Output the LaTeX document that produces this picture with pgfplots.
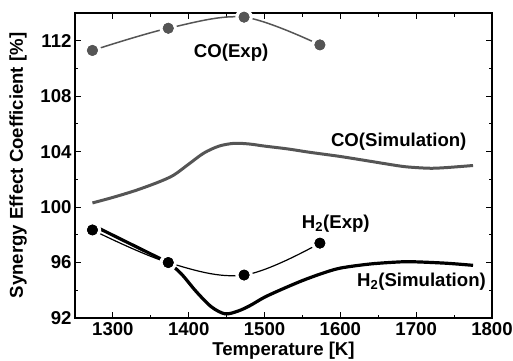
\documentclass[border=0pt]{standalone}
\usepackage{pgfplots}
\pgfplotsset{compat=1.18}
\usepackage{fontspec}
\setmainfont{Liberation Sans}
\definecolor{cogray}{RGB}{85,85,85}
\newcommand{\bigf}{\fontsize{18.6}{22}\selectfont\bfseries}
\begin{document}
\begin{tikzpicture}
\useasboundingbox (-75pt,-42pt) rectangle (438pt,318pt);
\begin{axis}[
  scale only axis, width=417pt, height=305pt,
  xmin=1250, xmax=1800, ymin=92, ymax=114,
  xtick={1300,1400,...,1800}, ytick={92,96,...,112},
  minor x tick num=1, minor y tick num=1,
  tick align=inside, major tick length=6pt, minor tick length=3.5pt,
  axis line style={line width=1.3pt},
  every tick/.style={black, line width=1pt},
  /pgf/number format/assume math mode=true,
  /pgf/number format/1000 sep={},
  xticklabel={\bigf\pgfmathprintnumber{\tick}},
  yticklabel={\bigf\pgfmathprintnumber{\tick}},
  tick label style={font=\bigf},
  xticklabel style={yshift=-1pt},
  yticklabel style={xshift=0pt},
  xlabel={Temperature [K]},
  ylabel={Synergy Effect Coefficient [\%]},
  every axis x label/.style={at={(rel axis cs:0.5,0)}, anchor=base, yshift=-37pt, font=\bigf},
  every axis y label/.style={at={(rel axis cs:0,0.5)}, rotate=90, anchor=center, yshift=57pt, font=\bigf},
]
% CO experimental curve (line with gaps)
\addplot[cogray, line width=1.5pt, smooth, tension=0.55, mark=*, mark size=7pt,
  mark options={draw=white, line width=3.5pt, fill=cogray}]
  coordinates {(1273,111.3) (1373,112.9) (1473,113.7) (1573,111.7)};
% H2 experimental curve
\addplot[black, line width=1.2pt, smooth, tension=0.6, mark=*, mark size=7pt,
  mark options={draw=white, line width=3.5pt, fill=black}]
  coordinates {(1273,98.35) (1373,96.0) (1473,95.1) (1573,97.4)};
% CO simulation
\addplot[cogray, line width=3pt, smooth] coordinates {
(1273,100.3) (1300,100.7) (1330,101.2) (1360,101.8) (1380,102.3) (1400,103.1)
(1420,103.9) (1440,104.4) (1460,104.6) (1480,104.55) (1500,104.4) (1530,104.2)
(1560,103.95) (1600,103.65) (1640,103.3) (1680,102.95) (1700,102.85) (1720,102.8)
(1740,102.85) (1775,103.0)};
% H2 simulation
\addplot[black, line width=3.2pt, smooth] coordinates {
(1273,98.7) (1300,97.97) (1330,97.16) (1360,96.35) (1373,96.0) (1390,95.2)
(1410,93.9) (1430,92.8) (1448,92.3) (1465,92.5) (1481,92.9) (1500,93.5)
(1524,94.1) (1550,94.7) (1575,95.2) (1600,95.6) (1640,95.9) (1680,96.05)
(1700,96.05) (1740,95.95) (1775,95.8)};
% markers on top
\addplot[only marks, mark=*, mark size=5.3pt, cogray]
  coordinates {(1273,111.3) (1373,112.9) (1473,113.7) (1573,111.7)};
\addplot[only marks, mark=*, mark size=5.3pt, black]
  coordinates {(1273,98.35) (1373,96.0) (1473,95.1) (1573,97.4)};
% labels
\node[font=\bigf, anchor=base] at (axis cs:1456,110.8) {CO(Exp)};
\node[font=\bigf, anchor=base] at (axis cs:1677,104.36) {CO(Simulation)};
\node[font=\bigf, anchor=base] at (axis cs:1594,98.47) {H\textsubscript{2}(Exp)};
\node[font=\bigf, anchor=base] at (axis cs:1707,94.25) {H\textsubscript{2}(Simulation)};
\end{axis}
\end{tikzpicture}
\end{document}
